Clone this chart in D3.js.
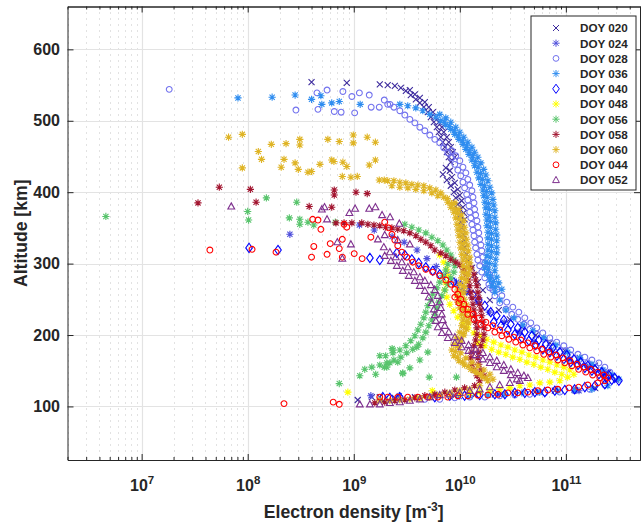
<!DOCTYPE html>
<html>
<head>
<meta charset="utf-8">
<script src="https://cdn.jsdelivr.net/npm/d3@7"></script>
<style>
  body { margin: 0; background: #fff; }
  svg { display: block; }
  text { font-family: "Liberation Sans", Arial, Helvetica, sans-serif; font-weight: bold; fill: #262626; }
</style>
</head>
<body>
<div id="chart"></div>
<script>
// each profile: [altitude km, electron density m^-3]
var doy020 = [[554,4.0e8],[553,8.6e8],
  [551,1.76e9],[550,2.09e9],[549,2.44e9],[546,2.78e9],[542,3.10e9],[536,3.45e9],[530,3.85e9],[525,4.20e9],[519,4.58e9],[512,4.99e9],[505,5.33e9],[498,5.69e9],[491,6.07e9],[484,6.34e9],[477,6.62e9],[470,6.92e9],[463,7.22e9],[456,7.54e9],[449,7.87e9],[442,8.22e9],[434,7.38e9],[425,6.92e9],[417,7.54e9],[409,8.22e9],[400,8.78e9],[392,9.16e9],[383,9.57e9],[375,9.8e9],[367,1.0e10],[358,1.02e10],[350,1.04e10],[341,1.07e10],[333,1.09e10],[323,1.11e10],[313,1.16e10],[304,1.21e10],[294,1.30e10],[284,1.38e10],[274,1.48e10],
  [543,3.38e9],[537,3.77e9],[532,4.20e9],[526,4.68e9],[519,5.1e9],[512,5.58e9],[505,5.94e9],[498,6.34e9],[491,6.77e9],[484,7.06e9],[477,7.54e9],[470,7.87e9],[463,8.22e9],[456,8.59e9],[449,8.97e9],[430,8.05e9],[421,8.41e9],[413,8.97e9],[404,9.57e9],[396,1.0e10],[388,1.04e10],[379,1.07e10],[371,1.09e10],[362,1.11e10],
  [263,1.65e10],[249,1.92e10],[235,2.33e10],[222,2.96e10],[211,3.85e10],[200,5.21e10],[189,7.06e10],[178,9.77e10],[168,1.35e11],[157,1.88e11],[147,2.49e11],[138,2.96e11],
  [126,1.88e11],[123,1.21e11],[122,7.87e10],[120,5.10e10],[119,3.30e10],[117,2.14e10],[116,1.38e10],[115,8.97e9],[115,5.81e9],[113,3.77e9],[112,2.44e9],[113,1.76e9],[113,1.48e9],[109,1.09e9]];
var doy024 = [[341,2.5e8],[354,1.13e9],[347,1.56e9],[338,2.3e9],[330,2.99e9],[319,3.95e9],[307,4.9e9],[296,6.0e9],[285,7.6e9],[274,9.3e9],[260,1.17e10],[246,1.46e10],[232,1.89e10],[218,2.62e10],[204,3.63e10],[191,5.02e10],[179,7.3e10],[166,1.07e11],[155,1.6e11],[143,2.29e11],[122,1.33e11],[120,5.6e10],[117,2.35e10],[114,9.87e9],[113,5.15e9],[115,2.69e9],[115,1.45e9]];
var doy028 = [[544,1.82e7],[515,2.85e8],[516,4.6e8],[539,4.5e8],[543,5.6e8],[513,6.55e8],[512,7.6e8],[541,7.9e8],[534,9.6e8],[511,1.02e9],[539,1.13e9],[536,1.4e9],[519,1.46e9],[519,1.74e9],[529,1.94e9],[523,2.2e9],
  [523,2.09e9],[519,2.39e9],[514,2.72e9],[508,3.03e9],[502,3.38e9],[497,3.77e9],[491,4.20e9],[486,4.68e9],[480,5.21e9],[474,5.81e9],[469,6.47e9],[462,7.06e9],[455,7.71e9],[448,8.41e9],[439,8.97e9],[431,9.57e9],[423,1.02e10],[414,1.07e10],[406,1.11e10],[397,1.16e10],[389,1.19e10],[381,1.22e10],[372,1.24e10],[364,1.27e10],[355,1.30e10],[347,1.33e10],[339,1.36e10],[330,1.38e10],[322,1.41e10],[313,1.45e10],[305,1.48e10],[297,1.54e10],[288,1.61e10],[280,1.72e10],[271,1.88e10],[263,2.05e10],
  [458,8.41e9],[451,9.16e9],[444,1.0e10],[435,1.07e10],[427,1.14e10],[418,1.19e10],[410,1.24e10],[402,1.30e10],[393,1.33e10],[385,1.36e10],[376,1.38e10],[368,1.41e10],[360,1.45e10],[351,1.48e10],[343,1.51e10],[334,1.54e10],[326,1.58e10],[318,1.61e10],[309,1.65e10],[301,1.72e10],[292,1.80e10],[284,1.92e10],
  [276,2.0e10],[264,2.23e10],[255,2.49e10],[246,2.77e10],[239,3.16e10],[232,3.60e10],[224,4.10e10],[217,4.67e10],[210,5.32e10],[203,6.06e10],[196,7.06e10],[190,8.2e10],[185,9.57e10],[179,1.11e11],[173,1.30e11],[169,1.51e11],[165,1.76e11],[161,2.05e11],[155,2.33e11],[148,2.60e11],[141,2.83e11],
  [266,1.92e10],[255,2.14e10],[245,2.38e10],[236,2.72e10],[229,3.09e10],[222,3.52e10],[215,4.02e10],[208,4.57e10],[201,5.32e10],[194,6.19e10],[189,7.21e10],[183,8.4e10],[178,9.77e10],[172,1.11e11],[166,1.35e11],[161,1.61e11],[155,1.92e11],[150,2.23e11],
  [130,2.33e11],[124,1.68e11],[122,1.21e11],[120,8.77e10],[119,6.33e10],[117,4.57e10],[116,3.30e10],[115,2.38e10],[113,1.72e10],[113,1.24e10],[112,8.97e9],[110,6.47e9],[110,4.68e9]];
var doy036 = [[532,8.1e7],[533,1.7e8],[536,2.8e8],[530,4.0e8],[535,4.9e8],[523,5.0e8],[525,6.2e8],[527,7.3e8],[523,1.15e9],
  [523,2.72e9],[521,3.23e9],[518,3.85e9],[514,4.48e9],[509,5.21e9],[505,5.94e9],[500,6.62e9],[494,7.38e9],[488,8.22e9],[481,8.97e9],[474,9.8e9],[467,1.07e10],[460,1.14e10],[453,1.22e10],[445,1.30e10],[437,1.38e10],[428,1.45e10],[420,1.51e10],[411,1.58e10],[403,1.65e10],[395,1.68e10],[386,1.72e10],[378,1.76e10],[369,1.76e10],[361,1.80e10],[353,1.80e10],[344,1.84e10],[336,1.84e10],[327,1.84e10],[319,1.84e10],[311,1.80e10],[302,1.76e10],[294,1.72e10],[285,1.80e10],[277,1.92e10],[269,2.00e10],[260,2.14e10],
  [498,7.15e9],[492,7.97e9],[486,8.88e9],[479,9.69e9],[472,1.06e10],[465,1.16e10],[458,1.23e10],[451,1.32e10],[443,1.40e10],[435,1.49e10],[426,1.57e10],[418,1.63e10],[409,1.71e10],[401,1.78e10],[393,1.81e10],[384,1.86e10],[376,1.90e10],[367,1.90e10],[359,1.94e10],[351,1.94e10],[342,1.99e10],[334,1.99e10],[325,1.99e10],[317,1.99e10],[309,1.94e10],[300,1.90e10],[292,1.86e10],[283,1.94e10],[275,2.07e10],[267,2.16e10],
  [509,6.47e9],[504,7.38e9],[498,8.22e9],[491,9.16e9],[484,1.0e10],[477,1.09e10],[470,1.19e10],[463,1.30e10],[456,1.38e10],[449,1.48e10],[441,1.58e10],[432,1.68e10],[424,1.76e10],[416,1.84e10],[407,1.92e10],[399,2.00e10],[390,2.05e10],[382,2.09e10],[374,2.14e10],[365,2.14e10],[357,2.18e10],[348,2.18e10],[340,2.23e10],[332,2.23e10],[323,2.23e10],[315,2.23e10],[306,2.18e10],[298,2.14e10],[290,2.14e10],[281,2.23e10],[273,2.33e10],[264,2.49e10],
  [249,2.38e10],[235,2.72e10],[224,3.23e10],[214,3.93e10],[206,4.88e10],[196,6.19e10],[186,8.04e10],[176,1.04e11],[168,1.35e11],[159,1.76e11],[151,2.23e11],[144,2.71e11],[138,3.16e11],
  [129,2.49e11],[124,1.76e11],[123,1.21e11],[122,8.4e10],[120,5.68e10],[119,3.85e10],[117,2.66e10],[116,1.84e10],[115,1.24e10]];
var doy040 = [[322,1.03e8],[319,1.93e8],[308,1.42e9],[305,1.76e9],[315,2.55e9],
  [312,3.03e9],[306,3.53e9],[301,4.10e9],[295,4.78e9],[290,5.56e9],[285,6.47e9],[280,7.54e9],[274,8.78e9],[269,1.02e10],[263,1.16e10],[256,1.33e10],[249,1.51e10],[241,1.72e10],[232,1.96e10],
  [227,2.23e10],[221,2.60e10],[215,3.03e10],[210,3.52e10],[204,4.10e10],[199,4.78e10],[193,5.56e10],[187,6.47e10],[182,7.54e10],[176,8.77e10],[172,1.02e11],[166,1.19e11],[162,1.38e11],[157,1.61e11],[152,1.88e11],[148,2.18e11],[144,2.54e11],[140,2.89e11],[136,3.16e11],
  [218,2.09e10],[213,2.44e10],[207,2.84e10],[201,3.30e10],[196,3.85e10],[192,4.48e10],[186,5.21e10],[180,6.07e10],[176,7.06e10],[171,8.22e10],[166,9.57e10],[162,1.11e11],[158,1.30e11],[154,1.51e11],[150,1.76e11],[145,2.05e11],[141,2.38e11],[137,2.71e11],
  [131,2.33e11],[129,1.88e11],[127,1.51e11],[124,1.21e11],[123,9.77e10],[122,7.87e10],[120,6.33e10],[120,5.10e10],[119,4.10e10],[119,3.30e10],[117,2.66e10],[117,2.14e10],[116,1.54e10],[115,1.11e10],[115,8.05e9],[113,5.81e9],[113,2.72e9],[112,2.19e9],[113,1.88e9]];
var doy048 = [[312,6.47e9],[302,7.06e9],[292,7.54e9],[283,7.71e9],[273,7.38e9],[263,7.22e9],[253,7.54e9],[243,8.05e9],[234,8.78e9],[225,9.57e9],[217,1.07e10],[210,1.19e10],[203,1.36e10],
  [199,1.54e10],[194,1.80e10],[190,2.09e10],[186,2.44e10],[183,2.84e10],[179,3.30e10],[176,3.85e10],[172,4.48e10],[169,5.21e10],[165,6.07e10],[162,7.06e10],[158,8.22e10],[155,9.57e10],[151,1.09e11],[145,1.19e11],
  [189,1.48e10],[185,1.72e10],[180,2.0e10],[176,2.33e10],[173,2.72e10],[169,3.16e10],[166,3.68e10],[162,4.29e10],[159,4.99e10],[155,5.81e10],[152,6.76e10],[148,7.87e10],[145,9.16e10],[141,1.04e11],
  [136,8.77e10],[134,7.06e10],[133,5.68e10],[130,4.57e10],[129,3.68e10],[126,2.96e10],[124,2.38e10],[122,1.92e10],[120,1.54e10],[119,1.24e10],[117,1.0e10],[116,8.05e9],[115,6.47e9],
  [122,5.5e9],[120,8.8e8],[111,4.15e9]];
var doy056 = [[366,4.6e6],[392,1.5e8],[373,1.0e8],[361,1.02e8],[386,2.9e8],[364,2.47e8],[362,3.1e8],[355,3.1e8],[358,3.7e8],[354,4.2e8],[358,6.7e8],
  [355,3.03e9],[351,3.53e9],[347,4.10e9],[343,4.78e9],[337,5.45e9],[332,6.2e9],[326,6.92e9],[319,7.54e9],[312,8.22e9],[305,8.78e9],[297,8.97e9],[288,8.78e9],[280,8.22e9],[271,7.71e9],[263,7.22e9],[255,6.77e9],[246,6.34e9],[238,6.07e9],[229,5.81e9],[221,5.45e9],[213,5.1e9],[204,4.78e9],[196,4.48e9],[187,4.10e9],[180,3.60e9],[175,3.16e9],[169,2.78e9],[165,2.39e9],[161,2.05e9],[158,1.76e9],[155,1.48e9],[152,1.27e9],
  [299,7.71e9],[291,7.38e9],[283,6.92e9],[274,6.47e9],[266,6.07e9],[257,5.56e9],[249,5.33e9],[241,4.99e9],[232,4.78e9],[224,4.58e9],[215,4.29e9],[207,4.02e9],[199,3.77e9],[192,3.45e9],[185,3.10e9],[179,2.72e9],[175,2.34e9],[171,2.0e9],
  [179,2.34e9],[155,2.05e9],[147,2.90e9],[183,3.93e9],[171,1.76e9],[162,2.60e9],[154,3.38e9],[165,4.20e9],[176,4.99e9],[145,1.61e9],[143,1.14e9],
  [161,2.19e9],[181,2.3e9],[155,1.94e9],[146,2.9e9],[141,5.15e9],[141,9.3e9],[132,7.3e8]];
var doy058 = [[407,5.4e7],[404,1.06e8],[385,3.4e7],[386,1.2e8],[380,3.8e8],[379,6.2e8],[403,6.55e8],[396,6.55e8],[400,1.05e9],[398,1.34e9],[357,6.8e8],[357,8.1e8],[357,9.6e8],
  [357,1.19e9],[355,1.36e9],[354,1.55e9],[353,1.76e9],[351,2.0e9],[350,2.29e9],[348,2.60e9],[346,2.96e9],[343,3.38e9],[339,3.85e9],[334,4.29e9],[330,4.78e9],[325,5.33e9],[319,5.81e9],[315,6.62e9],[311,7.38e9],[306,8.22e9],[302,9.16e9],[298,1.0e10],[292,1.09e10],[285,1.16e10],[277,1.21e10],[269,1.24e10],[260,1.27e10],[252,1.30e10],[243,1.33e10],[235,1.36e10],[227,1.38e10],[218,1.41e10],[210,1.45e10],[201,1.45e10],[193,1.41e10],[185,1.36e10],[176,1.30e10],[168,1.27e10],[159,1.30e10],[151,1.36e10],[143,1.45e10],[136,1.54e10],
  [294,1.27e10],[285,1.36e10],[277,1.41e10],[269,1.45e10],[260,1.48e10],[252,1.51e10],[243,1.54e10],[235,1.58e10],[227,1.61e10],[218,1.65e10],[210,1.69e10],[201,1.69e10],[193,1.65e10],[185,1.58e10],[176,1.51e10],[168,1.48e10],[159,1.51e10],[151,1.58e10],[143,1.69e10],
  [129,1.38e10],[126,1.11e10],[123,8.97e9],[120,7.22e9],[117,5.81e9],[115,4.68e9],[112,3.77e9],[109,3.03e9],[108,2.44e9],[106,1.96e9],[105,1.58e9]];
var doy060 = [[477,6.6e7],[481,8.9e7],[457,1.26e8],[446,1.35e8],[434,8.9e7],[467,1.67e8],[468,2.3e8],[474,3.1e8],[466,3.1e8],[446,2.2e8],[435,2.07e8],[441,2.8e8],[432,3.0e8],[428,3.7e8],[429,4.0e8],[439,4.8e8],[474,5.7e8],[471,7.3e8],[480,9.9e8],[469,9.9e8],[445,6.2e8],[443,6.5e8],[442,7.9e8],[436,8.6e8],[422,7.8e8],[421,9.4e8],[422,1.08e9],[477,1.34e9],[470,1.6e9],[438,1.4e9],[445,1.6e9],[417,1.74e9],[417,1.94e9],
  [416,2.09e9],[416,2.39e9],[414,2.72e9],[413,3.10e9],[411,3.53e9],[410,4.02e9],[409,4.58e9],[406,5.21e9],[403,5.94e9],[399,6.62e9],[393,7.06e9],[386,7.71e9],[379,8.22e9],[372,8.78e9],[364,9.16e9],[355,9.37e9],[347,9.57e9],[339,9.8e9],[330,1.0e10],[322,1.02e10],[313,1.04e10],[305,1.07e10],[297,1.07e10],[288,1.07e10],[280,1.04e10],[271,1.0e10],[263,9.57e9],[255,9.37e9],[246,9.57e9],[238,1.0e10],[229,1.04e10],[221,1.07e10],[213,1.04e10],[204,1.0e10],[196,9.37e9],[187,8.78e9],[179,8.41e9],[171,8.78e9],[164,9.8e9],[158,1.11e10],[152,1.27e10],[147,1.45e10],[141,1.65e10],[136,1.84e10],
  [391,7.62e9],[384,8.33e9],[377,8.88e9],[370,9.48e9],[362,9.89e9],[353,1.01e10],[345,1.03e10],[337,1.06e10],[328,1.08e10],[320,1.10e10],[311,1.12e10],[303,1.16e10],[295,1.16e10],[286,1.16e10],[278,1.12e10],[269,1.08e10],[261,1.03e10],[253,1.01e10],[244,1.03e10],[236,1.08e10],[227,1.12e10],[219,1.16e10],[211,1.12e10],[202,1.08e10],[194,1.01e10],[185,9.48e9],[177,9.08e9],[169,9.48e9],[162,1.06e10],[156,1.20e10],[150,1.37e10],[145,1.57e10],[139,1.78e10],
  [385,8.97e9],[376,9.8e9],[368,1.04e10],[360,1.09e10],[351,1.11e10],[343,1.14e10],[334,1.16e10],[326,1.19e10],[318,1.21e10],[309,1.24e10],[301,1.24e10],[292,1.24e10],[284,1.21e10],[276,1.16e10],[267,1.11e10],[259,1.09e10],[250,1.11e10],[242,1.16e10],[234,1.21e10],[225,1.24e10],[217,1.21e10],[208,1.16e10],[200,1.09e10],[192,1.02e10],[183,9.8e9],[175,1.02e10],[168,1.14e10],[162,1.30e10],[157,1.48e10],[151,1.69e10],[145,1.92e10],[138,2.05e10],
  [409,2.29e9],[407,2.72e9],[406,3.24e9],[404,3.85e9],[402,4.58e9],[399,5.45e9],[395,6.2e9],
  [129,1.54e10],[124,1.24e10],[122,1.0e10],[119,8.05e9],[116,6.47e9],[113,5.21e9],[112,4.20e9],[110,3.38e9],[109,2.72e9],[108,2.19e9],[109,1.76e9]];
var doy044 = [[319,4.4e7],[320,1.1e8],[316,1.85e8],[362,4.1e8],[361,4.6e8],[348,4.9e8],[324,4.2e8],[309,4.0e8],[313,5.6e8],[328,6.0e8],[321,7.3e8],[334,7.8e8],[309,7.8e8],[314,1.01e9],[355,8.1e8],[351,8.6e8],[307,1.2e9],[337,1.45e9],[104,2.2e8],[106,6.4e8],[103,7.3e8],
  [358,1.96e9],[350,2.14e9],[341,2.29e9],[333,2.44e9],[325,2.60e9],[316,2.84e9],[309,3.16e9],[302,3.60e9],[297,4.10e9],[292,4.78e9],[288,5.56e9],[283,6.47e9],[277,7.38e9],[271,8.22e9],[264,8.97e9],[257,9.57e9],[250,1.02e10],[243,1.09e10],[236,1.19e10],[229,1.33e10],[224,1.51e10],[218,1.76e10],[213,2.05e10],[207,2.38e10],[201,2.77e10],[197,3.23e10],[193,3.76e10],[189,4.38e10],[185,5.10e10],[180,5.93e10],[176,6.9e10],[172,8.04e10],[168,9.35e10],[164,1.09e11],[159,1.27e11],[155,1.48e11],[152,1.72e11],[148,2.00e11],[144,2.28e11],[140,2.49e11],
  [253,8.97e9],[245,9.8e9],[236,1.07e10],[229,1.19e10],[222,1.36e10],[215,1.58e10],[210,1.84e10],[204,2.14e10],[199,2.49e10],[194,2.90e10],[190,3.37e10],[186,3.93e10],[182,4.57e10],[178,5.32e10],[173,6.19e10],[169,7.21e10],[165,8.4e10],[161,9.77e10],[157,1.14e11],[152,1.32e11],[148,1.54e11],[144,1.79e11],[140,2.09e11],[136,2.33e11],
  [133,2.00e11],[130,1.61e11],[127,1.32e11],[126,1.07e11],[124,8.4e10],[123,6.76e10],[122,5.45e10],[120,4.38e10],[119,3.52e10],[119,2.84e10],[117,2.29e10],[116,1.84e10],[116,1.48e10],[115,1.19e10],[115,9.57e9],[113,7.71e9],[113,6.2e9],[113,4.99e9],[113,4.02e9],[113,3.23e9],[113,2.60e9],[113,2.09e9],[113,1.76e9]];
var doy052 = [[380,7.0e7],[376,5.0e8],[379,5.3e8],[362,5.6e8],[371,9.1e8],[377,1.03e9],[330,7.0e8],[327,9.4e8],[377,1.4e9],[379,1.6e9],[368,1.85e9],[365,2.2e9],[356,2.69e9],[307,7.8e8],[340,1.96e9],[333,2.60e9],[327,3.38e9],
  [334,1.69e9],[323,1.92e9],[316,2.19e9],[309,2.49e9],[302,2.84e9],[295,3.24e9],[288,3.68e9],[281,4.20e9],[276,4.68e9],[270,5.33e9],[263,5.81e9],[255,6.2e9],[246,6.47e9],[238,6.62e9],[229,6.77e9],[221,6.92e9],[213,7.22e9],[204,7.87e9],[197,8.97e9],[192,1.04e10],[186,1.21e10],[180,1.41e10],[175,1.65e10],[169,1.92e10],[164,2.23e10],[158,2.60e10],[152,3.03e10],[147,3.52e10],[143,4.02e10],[140,4.38e10],
  [311,1.96e9],[304,2.24e9],[297,2.55e9],[290,2.90e9],[283,3.31e9],[276,3.77e9],[269,4.20e9],[262,4.68e9],[253,5.1e9],[245,5.45e9],[236,5.69e9],[228,5.81e9],[220,5.94e9],[211,6.2e9],[203,6.77e9],[196,7.71e9],[189,8.97e9],[183,1.04e10],[178,1.21e10],[172,1.41e10],[166,1.65e10],[161,1.92e10],[155,2.23e10],[150,2.60e10],[144,3.03e10],[138,3.45e10],
  [136,3.68e10],[133,2.96e10],[130,2.38e10],[127,1.92e10],[124,1.54e10],[122,1.24e10],[119,1.0e10],[117,8.05e9],[116,6.47e9],[113,5.21e9],[110,4.20e9],[108,3.38e9],[106,2.72e9],[105,2.19e9],[103,1.76e9],[103,1.42e9],[103,1.14e9]];

var doyNames = ["DOY 020", "DOY 024", "DOY 028", "DOY 036", "DOY 040", "DOY 048", "DOY 056", "DOY 058", "DOY 060", "DOY 044", "DOY 052"];
var doyData = [doy020, doy024, doy028, doy036, doy040, doy048, doy056, doy058, doy060, doy044, doy052];
var doyColors = ["#3d2b9e", "#5050dc", "#7272ee", "#2f8df0", "#0000ff", "#ffff00", "#58c46c", "#a2142f", "#dfb424", "#ff0000", "#7e2f8e"];
var doyMarkers = ["x", "*", "o", "*", "d", "*", "*", "*", "*", "o", "^"];

var xTicks = [1e7, 1e8, 1e9, 1e10, 1e11];
var yTicks = [100, 200, 300, 400, 500, 600];

var W = 641, H = 527;
var pL = 67.5, pR = 640, pT = 6.5, pB = 460;

var svg = d3.select("#chart").append("svg")
  .attr("width", W)
  .attr("height", H);

var x = d3.scaleLog().domain([2e6, 5e11]).range([pL, pR]);
var y = d3.scaleLinear().domain([25, 660]).range([pB, pT]);

// minor log ticks 2..9 x 10^n inside the domain
var minorTicks = [];
for (var e = 6; e <= 11; e++) {
  for (var k = 2; k <= 9; k++) {
    var v = k * Math.pow(10, e);
    if (v >= 2e6 && v <= 5e11) minorTicks.push(v);
  }
}

// grid
var grid = svg.append("g");
grid.selectAll(".minorx").data(minorTicks).enter().append("line")
  .attr("x1", function (d) { return Math.round(x(d)) + 0.5 })
  .attr("x2", function (d) { return Math.round(x(d)) + 0.5 })
  .attr("y1", pT).attr("y2", pB)
  .attr("stroke", "#c4c4c4")
  .attr("stroke-width", 1)
  .attr("stroke-dasharray", "1,5");
grid.selectAll(".majorx").data(xTicks).enter().append("line")
  .attr("x1", function (d) { return Math.round(x(d)) + 0.5 })
  .attr("x2", function (d) { return Math.round(x(d)) + 0.5 })
  .attr("y1", pT).attr("y2", pB)
  .attr("stroke", "#e3e3e3")
  .attr("stroke-width", 1.2);
grid.selectAll(".majory").data(yTicks).enter().append("line")
  .attr("x1", pL).attr("x2", pR)
  .attr("y1", function (d) { return Math.round(y(d)) + 0.5 })
  .attr("y2", function (d) { return Math.round(y(d)) + 0.5 })
  .attr("stroke", "#e3e3e3")
  .attr("stroke-width", 1.2);

// marker shapes
function markerPath(m) {
  if (m == "x") return "M-3,-3L3,3M-3,3L3,-3";
  if (m == "*") return "M-3.6,0H3.6M0,-3.6V3.6M-2.6,-2.6L2.6,2.6M-2.6,2.6L2.6,-2.6";
  if (m == "o") return "M2.9,0A2.9,2.9 0 1,1 -2.9,0A2.9,2.9 0 1,1 2.9,0Z";
  if (m == "d") return "M0,-4.6L3.3,0L0,4.6L-3.3,0Z";
  if (m == "^") return "M0,-3.6L3.4,2.6H-3.4Z";
}

var plot = svg.append("g");
doyData.forEach(function (data, i) {
  plot.append("g")
    .selectAll("path")
    .data(data)
    .enter()
    .append("path")
    .attr("transform", function (d) { return "translate(" + x(d[1]) + "," + y(d[0]) + ")" })
    .attr("d", markerPath(doyMarkers[i]))
    .attr("fill", "none")
    .attr("stroke", doyColors[i])
    .attr("stroke-width", 1.1);
});

// axes, ticks pointing inward like matlab
var axisColor = "#262626";
var gx = svg.append("g").attr("transform", "translate(0," + pB + ")");
gx.call(d3.axisBottom(x).tickValues(minorTicks).tickSize(-3).tickSizeOuter(0).tickFormat(""));
var gx2 = svg.append("g").attr("transform", "translate(0," + pB + ")");
gx2.call(d3.axisBottom(x).tickValues(xTicks).tickSize(-6).tickSizeOuter(0).tickPadding(16).tickFormat(""));
gx2.selectAll(".tick text").each(function (d) {
  var t = d3.select(this);
  t.append("tspan").text("10").style("font-size", "16px");
  t.append("tspan").text(Math.round(Math.log10(d))).attr("dy", "-7").style("font-size", "11.5px");
});
gx2.selectAll(".tick text").attr("dy", "15").attr("dx", "0");

var gt = svg.append("g").attr("transform", "translate(0," + pT + ")");
gt.call(d3.axisTop(x).tickValues(minorTicks).tickSize(-3).tickSizeOuter(0).tickFormat(""));
gt.append("g").call(d3.axisTop(x).tickValues(xTicks).tickSize(-6).tickSizeOuter(0).tickFormat(""));

var gy = svg.append("g").attr("transform", "translate(" + pL + ",0)");
gy.call(d3.axisLeft(y).tickValues(yTicks).tickSize(-6).tickSizeOuter(0).tickPadding(7.5));
gy.selectAll(".tick text").style("font-size", "16px");

var gr = svg.append("g").attr("transform", "translate(" + pR + ",0)");
gr.call(d3.axisRight(y).tickValues(yTicks).tickSize(-6).tickSizeOuter(0).tickFormat(""));

svg.selectAll(".domain").attr("stroke", axisColor).attr("stroke-width", 1);
svg.selectAll(".tick line").attr("stroke", axisColor).attr("stroke-width", 1);
svg.selectAll(".tick text").attr("fill", axisColor).style("font-family", null);

// axis titles
svg.append("text")
  .attr("transform", "translate(27," + ((pT + pB) / 2) + ") rotate(-90)")
  .attr("text-anchor", "middle")
  .style("font-size", "17.6px")
  .text("Altitude [km]");

var xt = svg.append("text")
  .attr("x", (pL + pR) / 2)
  .attr("y", 518)
  .attr("text-anchor", "middle")
  .style("font-size", "17.6px");
xt.append("tspan").text("Electron density [m");
xt.append("tspan").text("-3").attr("dy", "-7").style("font-size", "12px");
xt.append("tspan").text("]").attr("dy", "7");

// legend
var lg = svg.append("g").attr("transform", "translate(531,16)");
lg.append("rect")
  .attr("width", 105).attr("height", 174)
  .attr("fill", "#fff")
  .attr("stroke", axisColor)
  .attr("stroke-width", 1);
var items = lg.selectAll(".item")
  .data(doyNames)
  .enter()
  .append("g")
  .attr("transform", function (d, i) { return "translate(0," + (12 + i * 15.2) + ")" });
items.append("path")
  .attr("transform", "translate(25,0)")
  .attr("d", function (d, i) { return markerPath(doyMarkers[i]) })
  .attr("fill", "none")
  .attr("stroke", function (d, i) { return doyColors[i] })
  .attr("stroke-width", 1);
items.append("text")
  .attr("x", 49)
  .attr("y", 4.3)
  .style("font-size", "11.7px")
  .text(function (d) { return d });
</script>
</body>
</html>
